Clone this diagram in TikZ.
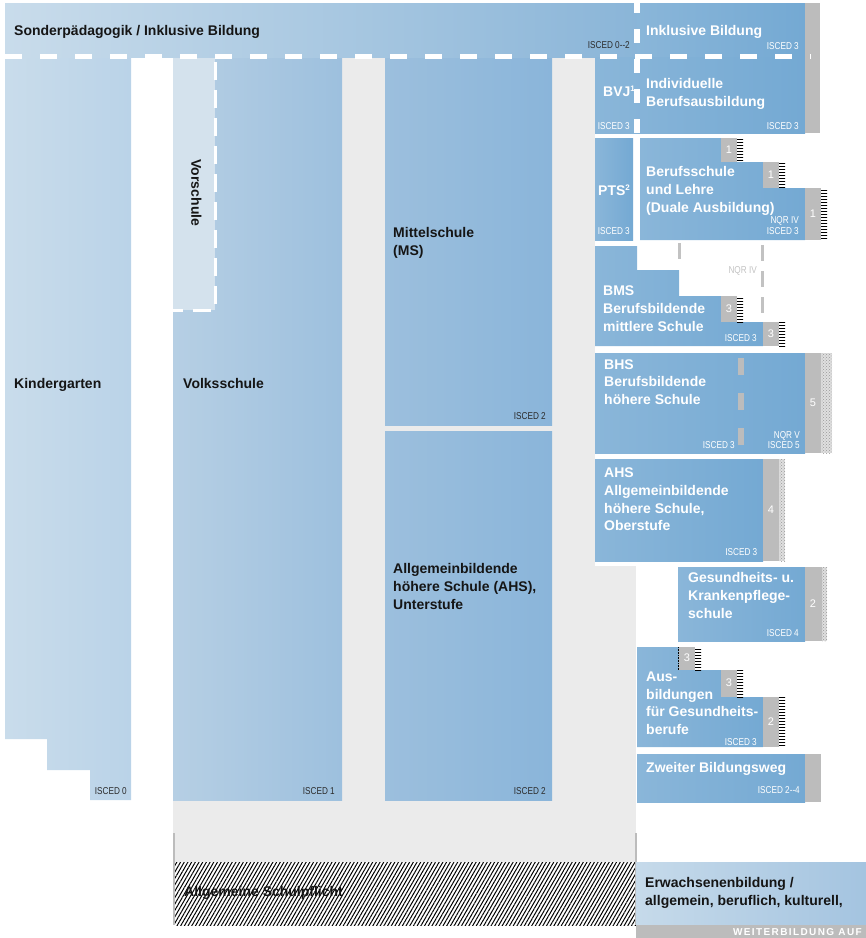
\documentclass[tikz,border=0pt]{standalone}
\usepackage{fontspec}
\setmainfont{Liberation Sans}
\newfontfamily\condfont[FakeStretch=0.82]{Liberation Sans}
\newfontfamily\spacedfont[LetterSpace=14]{Liberation Sans}
\usepackage{xcolor}
\usepackage{tikz}
\usetikzlibrary{patterns,patterns.meta}
\definecolor{greybg}{HTML}{EBEBEB}
\definecolor{bar}{HTML}{BCBCBC}
\definecolor{nqr}{HTML}{C2C2C2}
\definecolor{dark}{HTML}{151515}
\definecolor{kgl}{HTML}{C9DCEB}
\definecolor{kgr}{HTML}{BAD3E8}
\definecolor{vsl}{HTML}{B6CFE4}
\definecolor{vsr}{HTML}{9DC0DE}
\definecolor{msl}{HTML}{9CBFDD}
\definecolor{msr}{HTML}{8AB5DA}
\definecolor{bxl}{HTML}{8AB6D9}
\definecolor{bxr}{HTML}{74A9D3}
\definecolor{topl}{HTML}{C9DCEB}
\definecolor{topr}{HTML}{8AB5D8}
\definecolor{ewl}{HTML}{C6DAEA}
\definecolor{ewr}{HTML}{A4C4E0}
\definecolor{vor}{HTML}{D4E2ED}
\tikzset{
  kgfill/.style={left color=kgl, right color=kgr},
  vsfill/.style={left color=vsl, right color=vsr},
  msfill/.style={left color=msl, right color=msr},
  boxfill/.style={left color=bxl, right color=bxr},
  topfill/.style={left color=topl, right color=topr},
  ewfill/.style={left color=ewl, right color=ewr},
  comb/.style={pattern=horizontal lines, pattern color=black},
  speck/.style={pattern=crosshatch dots, pattern color=gray!80},
  wdash/.style={draw=white, line width=5pt, dash pattern=on 17pt off 18pt},
  vdash/.style={draw=white, line width=3pt, dash pattern=on 18pt off 10pt},
  ndash/.style={draw=nqr, line width=3pt},
  lab/.style={anchor=north west, align=left, inner sep=0pt, text=white,
    font=\bfseries\fontsize{14}{17.8}\selectfont, execute at begin node=\strut},
  labd/.style={lab, text=dark},
  isc/.style={anchor=base east, inner sep=0pt, text=white, font=\condfont\fontsize{10}{11}\selectfont},
  iscd/.style={isc, text=dark!90},
  num/.style={inner sep=0pt, text=white, font=\fontsize{11}{11}\selectfont},
}
\newcommand{\supnum}[1]{\raisebox{5pt}{\fontsize{8}{8}\selectfont #1}}
\begin{document}
\begin{tikzpicture}[x=1pt,y=-1pt]
\useasboundingbox (0,0) rectangle (866,938);
% grey ground of the secondary levels
\fill[greybg] (173,58) rectangle (636,862);
\fill[white] (595,58) rectangle (637,566);

% primary and lower secondary
\shade[kgfill] (5,58) -- (131,58) -- (131,800) -- (90,800) -- (90,770) -- (47,770) -- (47,739) -- (5,739) -- cycle;
\shade[vsfill] (173,58) rectangle (342,800);
\fill[vor] (173,58) rectangle (215,310);
\draw[vdash] (215,62) -- (215,310) -- (173,310);
\shade[msfill] (385,58) rectangle (552,425);
\shade[msfill] (385,431) rectangle (552,800);

% top band
\shade[topfill] (5,3) rectangle (640,57);
\shade[boxfill] (637,3) rectangle (805,57);
\shade[boxfill] (595,57) rectangle (805,133);
\fill[bar] (805,3) rectangle (820,133);
\draw[wdash] (5,56.5) -- (811,56.5);
\draw[white, line width=6pt, dash pattern=on 14pt off 16pt, dash phase=4pt] (637,3) -- (637,133);

% upper secondary, right column
\shade[boxfill] (595,138) rectangle (633,240);
\shade[boxfill] (640,138) -- (721,138) -- (721,162) -- (763,162) -- (763,188) -- (805,188) -- (805,240) -- (640,240) -- cycle;
\fill[bar] (721,138) rectangle (737,162);
\fill[bar] (763,162) rectangle (779,188);
\fill[bar] (805,188) rectangle (821,240);
\fill[comb] (737,138) rectangle (743,162);
\fill[comb] (779,162) rectangle (785,188);
\fill[comb] (821,188) rectangle (827,240);

\shade[boxfill] (595,246) -- (637,246) -- (637,270) -- (679,270) -- (679,296) -- (721,296) -- (721,322) -- (763,322) -- (763,346) -- (595,346) -- cycle;
\fill[bar] (721,296) rectangle (737,322);
\fill[bar] (763,322) rectangle (779,346);
\fill[comb] (737,296) rectangle (743,322);
\fill[comb] (779,322) rectangle (785,346);
\draw[ndash] (679,243) -- (679,259);
\draw[ndash, dash pattern=on 16pt off 10pt] (762.5,245) -- (762.5,314);

\shade[boxfill] (595,353) rectangle (805,453);
\fill[bar] (805,353) rectangle (821,453);
\fill[gray!25] (821,353) rectangle (832,453);
\fill[speck] (821,353) rectangle (832,453);
\draw[bar, line width=6pt, dash pattern=on 17pt off 18pt] (741,358) -- (741,447);

\shade[boxfill] (595,459) rectangle (763,561);
\fill[bar] (763,459) rectangle (779,561);
\fill[gray!25] (779,459) rectangle (785,561);
\fill[speck] (779,459) rectangle (785,561);

\shade[boxfill] (678,567) rectangle (805,641);
\fill[bar] (805,567) rectangle (822,641);
\fill[gray!25] (822,567) rectangle (827,641);
\fill[speck] (822,567) rectangle (827,641);

\shade[boxfill] (637,647) -- (679,647) -- (679,670) -- (721,670) -- (721,697) -- (763,697) -- (763,747) -- (637,747) -- cycle;
\fill[bar] (679,647) rectangle (695,670);
\fill[bar] (721,670) rectangle (737,697);
\fill[bar] (763,697) rectangle (779,747);
\fill[comb] (695,647) rectangle (701,670);
\fill[comb] (737,670) rectangle (743,697);
\fill[comb] (779,697) rectangle (785,747);
\draw[densely dotted, line width=0.6pt] (678.5,647) -- (678.5,670);

\shade[boxfill] (637,754) rectangle (805,802);
\fill[bar] (805,754) rectangle (821,802);

% compulsory schooling and adult education
\fill[white] (175,862) rectangle (636,925);
\fill[pattern={Lines[angle=60, distance=3.2pt, line width=1pt]}, pattern color=black] (175,862) rectangle (636,925);
\draw[bar, line width=2pt] (174,833) -- (174,925);
\draw[bar, line width=2pt] (636,833) -- (636,925);
\shade[ewfill] (636,862) rectangle (866,925);
\fill[bar] (636,925) rectangle (866,938);

% labels
\node[labd] (sonder) at (14,22.5) {Sonderpädagogik / Inklusive Bildung};
\node[iscd] (isc-sonder) at (630,48.5) {ISCED 0--2};
\node[lab] (inkl) at (646,22.5) {Inklusive Bildung};
\node[isc] (isc-inkl) at (799,49) {ISCED 3};
\node[lab] (bvj) at (603,84.2) {BVJ\supnum{1}};
\node[isc] (isc-bvj) at (630,129) {ISCED 3};
\node[lab] (indiv) at (646,78.5) {Individuelle\\Berufsausbildung};
\node[isc] (isc-indiv) at (799,129) {ISCED 3};
\node[lab] (pts) at (598,182.5) {PTS\supnum{2}};
\node[isc] (isc-pts) at (630,234) {ISCED 3};
\node[lab] (bsl) at (646,166.5) {Berufsschule\\und Lehre\\(Duale Ausbildung)};
\node[isc] (nqr-bsl) at (799,223.3) {NQR IV};
\node[isc] (isc-bsl) at (799,234.3) {ISCED 3};
\node[num] (n-bsl1) at (729,150) {1};
\node[num] (n-bsl2) at (771,175) {1};
\node[num] (n-bsl3) at (813,214) {1};
\node[isc, text=nqr] (nqr-bms) at (757,273.3) {NQR IV};
\node[lab] (bms) at (603,285.8) {BMS\\Berufsbildende\\mittlere Schule};
\node[isc] (isc-bms) at (757,341) {ISCED 3};
\node[num] (n-bms1) at (729,309) {3};
\node[num] (n-bms2) at (771,334) {3};
\node[lab] (bhs) at (604,359.2) {BHS\\Berufsbildende\\höhere Schule};
\node[isc] (isc-bhs) at (735,448) {ISCED 3};
\node[isc] (nqr-bhs) at (800,438) {NQR V};
\node[isc] (isc5-bhs) at (800,448.3) {ISCED 5};
\node[num] (n-bhs) at (813,403) {5};
\node[lab] (ahso) at (604,467.5) {AHS\\Allgemeinbildende\\höhere Schule,\\Oberstufe};
\node[isc] (isc-ahso) at (757.5,555.7) {ISCED 3};
\node[num] (n-ahso) at (771,510) {4};
\node[lab] (gkp) at (688,572.5) {Gesundheits- u.\\Krankenpflege-\\schule};
\node[isc] (isc-gkp) at (799,636) {ISCED 4};
\node[num] (n-gkp) at (813,604) {2};
\node[lab] (ausb) at (646,671.5) {Aus-\\bildungen\\für Gesundheits-\\berufe};
\node[isc] (isc-ausb) at (757,745.5) {ISCED 3};
\node[num] (n-ausb1) at (687,658) {3};
\node[num] (n-ausb2) at (729,683) {3};
\node[num] (n-ausb3) at (771,722) {2};
\node[lab] (zbw) at (646,759.8) {Zweiter Bildungsweg};
\node[isc] (isc-zbw) at (800,793.3) {ISCED 2--4};

\node[labd] (kiga) at (14,375.5) {Kindergarten};
\node[iscd] (isc-kiga) at (127,794) {ISCED 0};
\node[labd, anchor=center, rotate=-90, execute at begin node={}] (vorsch) at (195,193) {Vorschule};
\node[labd] (vs) at (183,375.5) {Volksschule};
\node[iscd] (isc-vs) at (335,794) {ISCED 1};
\node[labd] (ms) at (393,227.5) {Mittelschule\\(MS)};
\node[iscd] (isc-ms) at (546,419) {ISCED 2};
\node[labd] (ahsu) at (393,563.5) {Allgemeinbildende\\höhere Schule (AHS),\\Unterstufe};
\node[iscd] (isc-ahsu) at (546,794) {ISCED 2};

\node[labd] (schulpf) at (184,884.2) {Allgemeine Schulpflicht};
\node[labd] (ewb) at (645,877.5) {Erwachsenenbildung /\\allgemein, beruflich, kulturell,};
\node[anchor=base east, inner sep=0pt, text=white, font=\spacedfont\bfseries\fontsize{10}{11}\selectfont] (weiter) at (862,935.5) {WEITERBILDUNG AUF};
\end{tikzpicture}
\end{document}
